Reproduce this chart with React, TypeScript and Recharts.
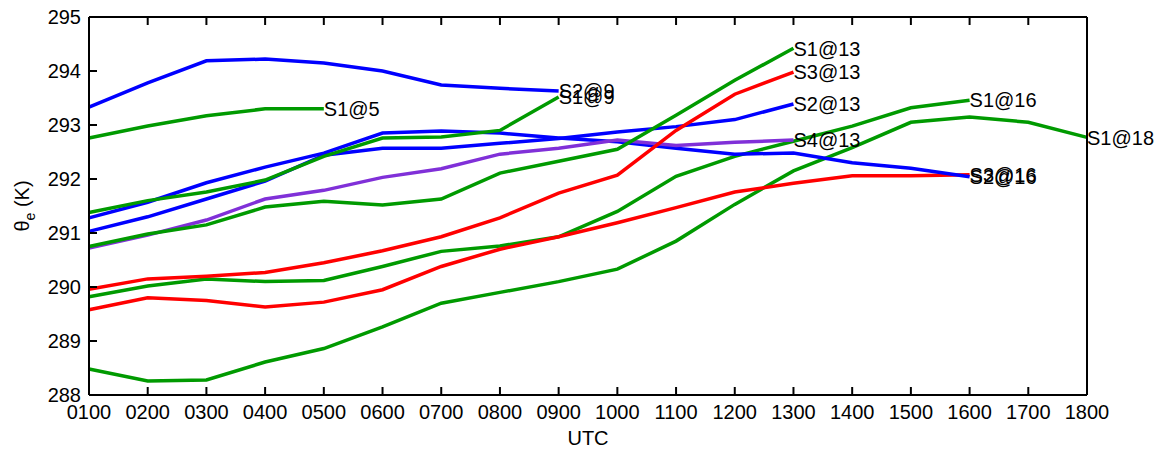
import React from 'react';
import { LineChart, Line, XAxis, YAxis } from 'recharts';

const times = ['0100', '0200', '0300', '0400', '0500', '0600', '0700', '0800', '0900', '1000', '1100', '1200', '1300', '1400', '1500', '1600', '1700', '1800'];
const yTicks = [288, 289, 290, 291, 292, 293, 294, 295];

const s1at5 = [292.76, 292.98, 293.17, 293.3, 293.3];
const s2at9 = [293.33, 293.78, 294.19, 294.22, 294.15, 294.0, 293.74, 293.68, 293.63];
const s1at9 = [291.38, 291.6, 291.76, 291.98, 292.42, 292.76, 292.78, 292.9, 293.52];
const s1at13 = [290.75, 290.98, 291.15, 291.48, 291.59, 291.52, 291.63, 292.11, 292.33, 292.55, 293.18, 293.83, 294.42];
const s3at13 = [289.96, 290.15, 290.2, 290.27, 290.45, 290.67, 290.93, 291.28, 291.74, 292.07, 292.9, 293.57, 293.98];
const s2at13 = [291.03, 291.3, 291.63, 291.96, 292.44, 292.57, 292.57, 292.66, 292.75, 292.87, 292.97, 293.1, 293.39];
const s4at13 = [290.72, 290.96, 291.24, 291.63, 291.79, 292.03, 292.19, 292.46, 292.57, 292.72, 292.62, 292.68, 292.72];
const s1at16 = [289.82, 290.02, 290.15, 290.1, 290.12, 290.38, 290.66, 290.76, 290.93, 291.4, 292.05, 292.42, 292.7, 292.98, 293.32, 293.46];
const s3at16 = [289.58, 289.8, 289.75, 289.63, 289.72, 289.95, 290.38, 290.7, 290.93, 291.19, 291.47, 291.76, 291.92, 292.06, 292.06, 292.08];
const s2at16 = [291.28, 291.57, 291.93, 292.22, 292.48, 292.85, 292.89, 292.85, 292.76, 292.69, 292.57, 292.46, 292.48, 292.3, 292.2, 292.04];
const s1at18 = [288.48, 288.26, 288.28, 288.61, 288.86, 289.26, 289.7, 289.9, 290.1, 290.33, 290.85, 291.53, 292.15, 292.58, 293.05, 293.15, 293.05, 292.77];

const BLUE = '#0000ff';
const GREEN = '#009a00';
const RED = '#ff0000';
const PURPLE = '#8030d8';

const series = [
  { key: 's1at18', name: 'S1@18', color: GREEN, values: s1at18 },
  { key: 's1at16', name: 'S1@16', color: GREEN, values: s1at16 },
  { key: 's3at16', name: 'S3@16', color: RED, values: s3at16 },
  { key: 's2at16', name: 'S2@16', color: BLUE, values: s2at16 },
  { key: 's4at13', name: 'S4@13', color: PURPLE, values: s4at13 },
  { key: 's2at13', name: 'S2@13', color: BLUE, values: s2at13 },
  { key: 's3at13', name: 'S3@13', color: RED, values: s3at13 },
  { key: 's1at13', name: 'S1@13', color: GREEN, values: s1at13 },
  { key: 's1at9', name: 'S1@9', color: GREEN, values: s1at9 },
  { key: 's2at9', name: 'S2@9', color: BLUE, values: s2at9 },
  { key: 's1at5', name: 'S1@5', color: GREEN, values: s1at5 },
];

const data = times.map((t, i) => {
  const row: Record<string, any> = { t };
  series.forEach((s) => {
    if (i < s.values.length) row[s.key] = s.values[i];
  });
  return row;
});

const FONT = 'Liberation Sans, Arial, Helvetica, sans-serif';
const FS = 20;
const TICK = 8;

const BottomTick = (p: any) => (
  <g>
    <line x1={p.x} x2={p.x} y1={p.y} y2={p.y - TICK} stroke="#000" strokeWidth={2} />
    <text x={p.x} y={p.y + 24} textAnchor="middle" fontSize={FS} fontFamily={FONT} fill="#000">
      {p.payload.value}
    </text>
  </g>
);
const TopTick = (p: any) => (
  <line x1={p.x} x2={p.x} y1={p.y} y2={p.y + TICK} stroke="#000" strokeWidth={2} />
);
const LeftTick = (p: any) => (
  <g>
    <line x1={p.x} x2={p.x + TICK} y1={p.y} y2={p.y} stroke="#000" strokeWidth={2} />
    <text x={p.x - 8} y={p.y} dy="0.36em" textAnchor="end" fontSize={FS} fontFamily={FONT} fill="#000">
      {p.payload.value}
    </text>
  </g>
);
const RightTick = (p: any) => (
  <line x1={p.x} x2={p.x - TICK} y1={p.y} y2={p.y} stroke="#000" strokeWidth={2} />
);

const makeEndLabel = (name: string, last: number) => (p: any) => {
  if (p.index !== last || p.x == null || p.y == null) return <g />;
  return (
    <text x={p.x} y={p.y} dy="0.36em" textAnchor="start" fontSize={FS} fontFamily={FONT} fill="#000">
      {name}
    </text>
  );
};

const YTitle = (p: any) => {
  const vb = p.viewBox || {};
  const cx = vb.x + vb.width - 67;
  const cy = vb.y + vb.height / 2;
  return (
    <text x={cx} y={cy} transform={`rotate(-90 ${cx} ${cy})`} textAnchor="middle" dy="0.36em" fontSize={FS} fontFamily={FONT} fill="#000">
      θ<tspan fontSize={14} dy="6">e</tspan>
      <tspan dy="-6"> (K)</tspan>
    </text>
  );
};

const XTitle = (p: any) => {
  const vb = p.viewBox || {};
  return (
    <text x={vb.x + vb.width / 2} y={vb.y + 50} textAnchor="middle" fontSize={FS} fontFamily={FONT} fill="#000">
      UTC
    </text>
  );
};

export default function App() {
  return (
    <div style={{ position: 'absolute', left: 0, top: 0, width: 1156, height: 453, background: '#fff' }}>
      <LineChart width={1156} height={453} data={data} margin={{ top: 16, right: 68, bottom: 57, left: 88 }}>
        <XAxis
          dataKey="t"
          xAxisId={0}
          height={1}
          interval={0}
          padding={{ left: 0, right: 0 }}
          tickSize={0}
          tickMargin={0}
          tickLine={false}
          axisLine={{ stroke: '#000', strokeWidth: 2 }}
          tick={BottomTick}
          label={{ content: XTitle }}
        />
        <XAxis
          dataKey="t"
          xAxisId="top"
          orientation="top"
          height={1}
          interval={0}
          padding={{ left: 0, right: 0 }}
          tickSize={0}
          tickMargin={0}
          tickLine={false}
          axisLine={{ stroke: '#000', strokeWidth: 2 }}
          tick={TopTick}
        />
        <YAxis
          yAxisId={0}
          type="number"
          domain={[288, 295]}
          ticks={yTicks}
          interval={0}
          width={1}
          tickSize={0}
          tickMargin={0}
          tickLine={false}
          axisLine={{ stroke: '#000', strokeWidth: 2 }}
          tick={LeftTick}
          label={{ content: YTitle }}
        />
        <YAxis
          yAxisId="right"
          orientation="right"
          type="number"
          domain={[288, 295]}
          ticks={yTicks}
          interval={0}
          width={1}
          tickSize={0}
          tickMargin={0}
          tickLine={false}
          axisLine={{ stroke: '#000', strokeWidth: 2 }}
          tick={RightTick}
        />
        {series.map((s) => (
          <Line
            key={s.key}
            xAxisId={0}
            yAxisId={0}
            dataKey={s.key}
            stroke={s.color}
            strokeWidth={3.5}
            dot={false}
            activeDot={false}
            isAnimationActive={false}
            label={makeEndLabel(s.name, s.values.length - 1)}
          />
        ))}
      </LineChart>
    </div>
  );
}
